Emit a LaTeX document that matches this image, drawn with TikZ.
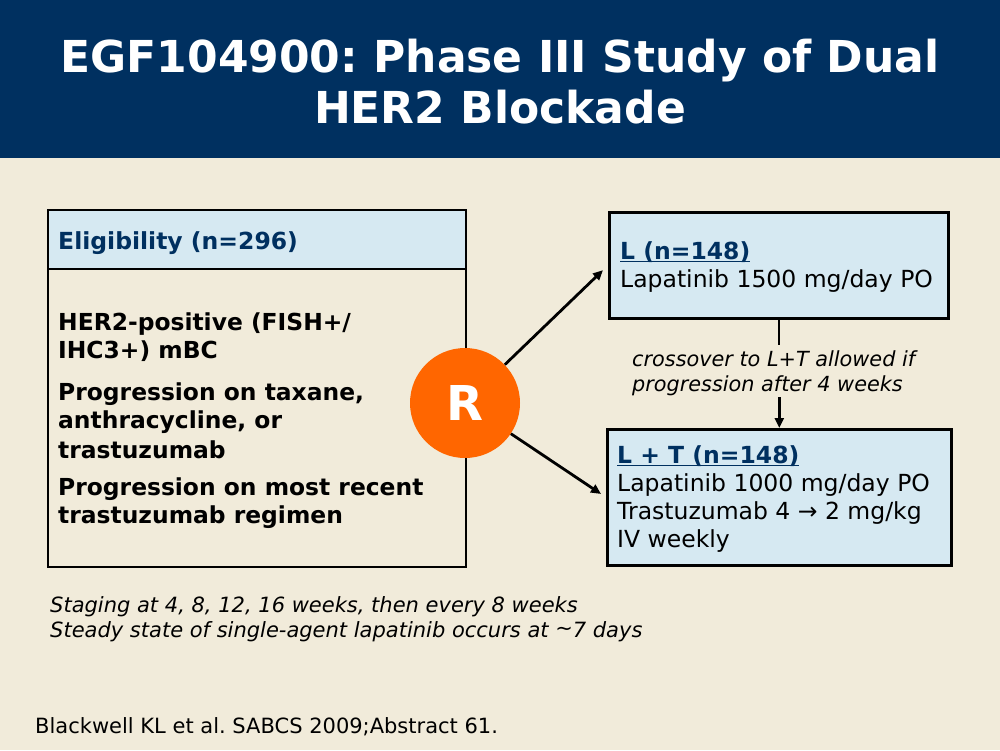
\documentclass[tikz,border=0pt]{standalone}
\usepackage{fontspec}
\setmainfont{DejaVu Sans}
\usetikzlibrary{arrows.meta}
\definecolor{navy}{RGB}{0,48,96}
\definecolor{bgbeige}{RGB}{241,235,218}
\definecolor{lblue}{RGB}{214,233,242}
\definecolor{rorange}{RGB}{255,102,0}
\newcommand\myul[1]{\setbox0\hbox{#1}\rlap{\rule[-3.3pt]{\wd0}{1.8pt}}\box0}
\frenchspacing
\begin{document}
\begin{tikzpicture}[x=1pt,y=-1pt,
  armbox/.style={draw=black, line width=2.6pt, fill=lblue, inner sep=0, anchor=north west},
  eligbox/.style={draw=black, line width=2pt, inner sep=0, anchor=north west, minimum width=418},
  arr/.style={line width=2.8pt, -{Triangle[length=10pt,width=9pt]}},
  txt/.style={inner sep=0, anchor=base west, align=left},
  armtxt/.style={txt, font=\fontsize{23.5}{28}\selectfont},
  foot/.style={txt, font=\itshape\fontsize{21}{25}\selectfont}]
\useasboundingbox (0,0) rectangle (1000,750);
\fill[bgbeige] (0,0) rectangle (1000,750);
\fill[navy] (0,0) rectangle (1000,158);
% multi-line nodes are placed by the baseline of their last line
\node[txt, anchor=base, align=center, text=white, font=\bfseries\fontsize{44}{51}\selectfont] (title) at (500,123) {EGF104900: Phase III Study of Dual\\HER2 Blockade};
% eligibility
\node[eligbox, minimum height=357] (elig) at (47,209) {};
\node[eligbox, fill=lblue, minimum height=59] (eligh) at (47,209) {};
\node[txt, text=navy, font=\bfseries\fontsize{23.5}{28}\selectfont] (eligt) at (58,249) {Eligibility (n=296)};
\node[txt, font=\bfseries\fontsize{23.4}{27.5}\selectfont] (eligb) at (58,523) {HER2-positive (FISH+/\\IHC3+) mBC\\[15pt]Progression on taxane,\\anthracycline, or\\[2.5pt]trastuzumab\\[10pt]Progression on most recent\\trastuzumab regimen};
% randomisation
\node[circle, fill=rorange, minimum size=110, inner sep=0, text=white, font=\bfseries\fontsize{48}{48}\selectfont] (R) at (465,403) {R};
% arms
\node[armbox, minimum width=339, minimum height=106] (L) at (608,211) {};
\node[armtxt] (Ltxt) at (620,287) {\textcolor{navy}{\bfseries\myul{L (n=148)}}\\Lapatinib 1500 mg/day PO};
\node[armbox, minimum width=344, minimum height=136] (LT) at (606,428) {};
\node[armtxt] (LTtxt) at (617,547) {\textcolor{navy}{\bfseries\myul{L + T (n=148)}}\\Lapatinib 1000 mg/day PO\\Trastuzumab 4 → 2 mg/kg\\IV weekly};
% crossover
\node[txt, font=\itshape\fontsize{20.8}{25}\selectfont] (cross) at (632,391) {crossover to L+T allowed if\\progression after 4 weeks};
\coordinate (ctop) at (778,345);
\coordinate (cbot) at (778,397);
\draw[line width=2.6pt] (L.south) -- (L.south |- ctop);
\draw[arr] (LT.north |- cbot) -- (LT.north);
% arrows
\draw[arr, shorten >=7pt] (R) -- (L.west);
\draw[arr, shorten >=6pt] (R) -- (LT.west);
% footer
\node[foot] (f1) at (50,637) {Staging at 4, 8, 12, 16 weeks, then every 8 weeks\\Steady state of single-agent lapatinib occurs at {\raisebox{0.15ex}{\textasciitilde}}7 days};
\node[txt, font=\fontsize{21}{25}\selectfont] (ref) at (35,733) {Blackwell KL et al. SABCS 2009;Abstract 61.};
\end{tikzpicture}
\end{document}
